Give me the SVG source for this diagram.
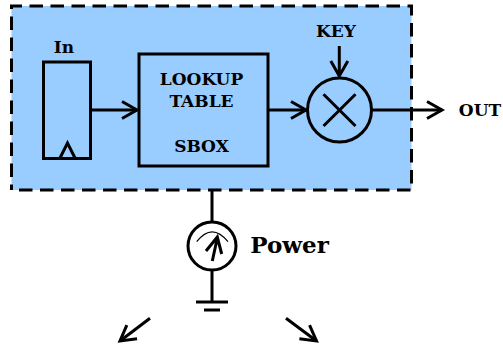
<svg xmlns="http://www.w3.org/2000/svg" width="503" height="345" viewBox="0 0 503 345">
<style>
.s{fill:none;stroke:#000;stroke-width:3}
.t{font-family:"DejaVu Serif",serif;font-weight:bold;fill:#000;text-anchor:middle}
</style>
<defs><marker id="a" markerUnits="userSpaceOnUse" markerWidth="24" markerHeight="24" refX="15" refY="8.500" orient="auto" overflow="visible"><path d="M0 0L15 8.500L0 17" fill="none" stroke="#000" stroke-width="3"/></marker></defs>
<g id="panel"><rect x="11.500" y="6" width="400" height="184" fill="#99ccff"/><path d="M11.500 190V6H411.500V190H11.500" fill="none" stroke="#000" stroke-width="3" stroke-dasharray="13.500 7.500" stroke-dashoffset="8"/></g>
<g id="register"><rect class="s" x="43.500" y="62" width="47" height="96.500"/><path class="s" d="M60 158L67.500 143L75 158"/><text class="t" x="64" y="53" font-size="17">In</text></g>
<g id="lookup"><rect class="s" x="139" y="54" width="129" height="112"/><text class="t" x="201.500" y="84.500" font-size="17">LOOKUP</text><text class="t" x="201.500" y="107" font-size="17">TABLE</text><text class="t" x="201.500" y="152" font-size="17">SBOX</text></g>
<g id="mixer"><circle class="s" cx="339.500" cy="110" r="32"/><path class="s" d="M323.500 94.300L355.500 126M355.500 94.300L323.500 126"/></g>
<g id="key"><text class="t" x="336" y="37" font-size="17">KEY</text></g>
<g id="out"><text class="t" x="480" y="116" font-size="17">OUT</text></g>
<g id="meter"><circle class="s" cx="212" cy="246" r="24"/><path d="M196.700 241.700Q212 222 228 241.700" fill="none" stroke="#000" stroke-width="1.200"/><path d="M212.300 261L217.300 238M206 251L217.300 237L221.700 254" class="s"/><text class="t" x="289.500" y="253" font-size="23">Power</text></g>
<g id="ground"><path class="s" d="M196 302H228M204 310H220"/></g>
<g id="connectors">
<path class="s" d="M92 110H137" marker-end="url(#a)"/>
<path class="s" d="M268 110H306" marker-end="url(#a)"/>
<path class="s" d="M339.300 46V76" marker-end="url(#a)"/>
<path class="s" d="M372 110H442" marker-end="url(#a)"/>
<path class="s" d="M212 190V222M212 270V302"/>
<path class="s" d="M150 318.300L120 341" marker-end="url(#a)"/>
<path class="s" d="M286 318.300L316.500 341" marker-end="url(#a)"/>
</g>
</svg>
